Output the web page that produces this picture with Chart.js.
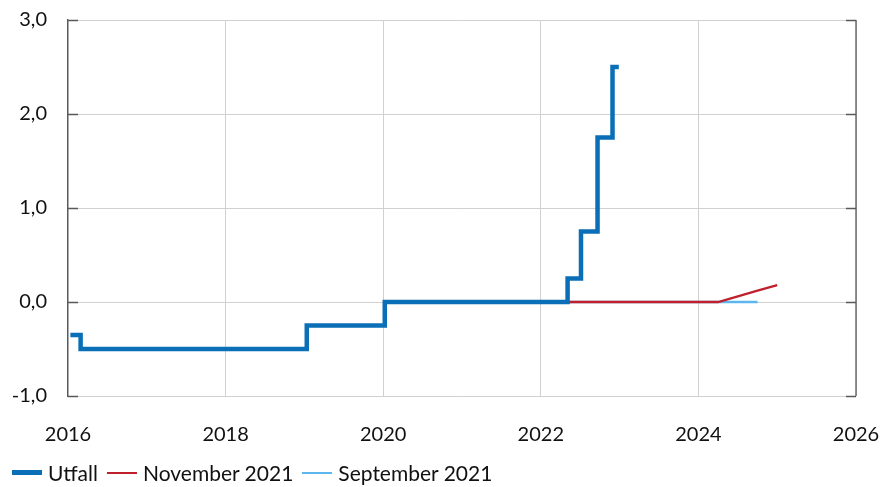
<!DOCTYPE html>
<html>
<head>
<meta charset="utf-8">
<script src="https://cdn.jsdelivr.net/npm/chart.js@4/dist/chart.umd.min.js"></script>
<style>
  html, body { margin: 0; padding: 0; background: #fff; }
  #wrap { position: relative; width: 882px; height: 487px; }
  #legend {
    position: absolute; left: 12px; top: 460px;
    display: flex; align-items: center;
    font-family: Lato, "Open Sans", sans-serif; font-size: 21px; color: #111;
  }
  #legend .item { display: flex; align-items: center; margin-right: 9px; }
  #legend .swatch { width: 30px; margin-right: 6px; }
</style>
</head>
<body>
<div id="wrap">
  <canvas id="chart" width="882" height="487"></canvas>
  <div id="legend"></div>
</div>
<script>
// Styrränta, procent. x = årtal (decimal), stegvis förändring
const utfallX = [2016.03, 2016.16, 2019.03, 2020.02, 2022.34, 2022.51, 2022.72, 2022.91, 2022.99];
const utfallY = [-0.35, -0.5, -0.25, 0.0, 0.25, 0.75, 1.75, 2.5, 2.5];

const nov21X = [2021.75, 2022.0, 2022.5, 2023.0, 2023.5, 2024.0, 2024.25, 2024.5, 2024.75, 2025.0];
const nov21Y = [0.0, 0.0, 0.0, 0.0, 0.0, 0.0, 0.0, 0.06, 0.12, 0.18];

const sep21X = [2021.5, 2022.0, 2022.5, 2023.0, 2023.5, 2024.0, 2024.5, 2024.75];
const sep21Y = [0.0, 0.0, 0.0, 0.0, 0.0, 0.0, 0.0, 0.0];

const seriesNames = ['Utfall', 'November 2021', 'September 2021'];
const xTicks = [2016, 2018, 2020, 2022, 2024, 2026];

const toPoints = (xs, ys) => xs.map((x, i) => ({ x, y: ys[i] }));

// inward tick marks on left/right axis + right border
const frame = {
  id: 'frame',
  afterDraw(chart) {
    const { ctx, chartArea: a, scales: { y } } = chart;
    ctx.save();
    ctx.strokeStyle = '#595959';
    ctx.lineWidth = 1.3;
    ctx.beginPath();
    ctx.moveTo(a.right, a.top);
    ctx.lineTo(a.right, a.bottom);
    y.ticks.forEach(t => {
      const py = Math.round(y.getPixelForValue(t.value)) + 0.5;
      ctx.moveTo(a.left, py); ctx.lineTo(a.left + 10, py);
      ctx.moveTo(a.right - 10, py); ctx.lineTo(a.right, py);
    });
    ctx.stroke();
    ctx.restore();
  }
};

const chart = new Chart(document.getElementById('chart'), {
  type: 'line',
  data: {
    datasets: [
      { label: seriesNames[0], data: toPoints(utfallX, utfallY), borderColor: '#0a6fb7', borderWidth: 4.5, stepped: 'before', pointRadius: 0 },
      { label: seriesNames[1], data: toPoints(nov21X, nov21Y), borderColor: '#c0202e', borderWidth: 2.3, pointRadius: 0 },
      { label: seriesNames[2], data: toPoints(sep21X, sep21Y), borderColor: '#5eb6ee', borderWidth: 2.3, pointRadius: 0 }
    ]
  },
  options: {
    responsive: false,
    animation: false,
    layout: { padding: { left: 0, right: 26, top: 20, bottom: 0 } },
    plugins: { legend: { display: false }, tooltip: { enabled: false } },
    scales: {
      x: {
        type: 'linear', min: 2016, max: 2026,
        afterBuildTicks: s => { s.ticks = xTicks.map(v => ({ value: v })); },
        afterFit: s => { s.height = 91; s.paddingLeft = 0; s.paddingRight = 0; },
        ticks: { callback: v => String(v), color: '#111', padding: 27, maxRotation: 0,
          font: { family: 'Lato, "Open Sans", sans-serif', size: 20 } },
        grid: { color: '#d0d0d0', drawTicks: false },
        border: { display: false }
      },
      y: {
        min: -1, max: 3,
        afterFit: s => { s.width = 68; s.paddingTop = 0; s.paddingBottom = 0; },
        ticks: { stepSize: 1, callback: v => v.toFixed(1).replace('.', ','), color: '#111', padding: 21,
          font: { family: 'Lato, "Open Sans", sans-serif', size: 20 } },
        grid: { color: '#d0d0d0', drawTicks: false },
        border: { display: true, color: '#595959', width: 1.3 }
      }
    }
  },
  plugins: [frame]
});

// legend below the chart
const legendEl = document.getElementById('legend');
chart.data.datasets.forEach(ds => {
  const item = document.createElement('div');
  item.className = 'item';
  const sw = document.createElement('span');
  sw.className = 'swatch';
  sw.style.height = Math.round(ds.borderWidth) + 'px';
  sw.style.background = ds.borderColor;
  const txt = document.createElement('span');
  txt.textContent = ds.label;
  item.appendChild(sw);
  item.appendChild(txt);
  legendEl.appendChild(item);
});
</script>
</body>
</html>
